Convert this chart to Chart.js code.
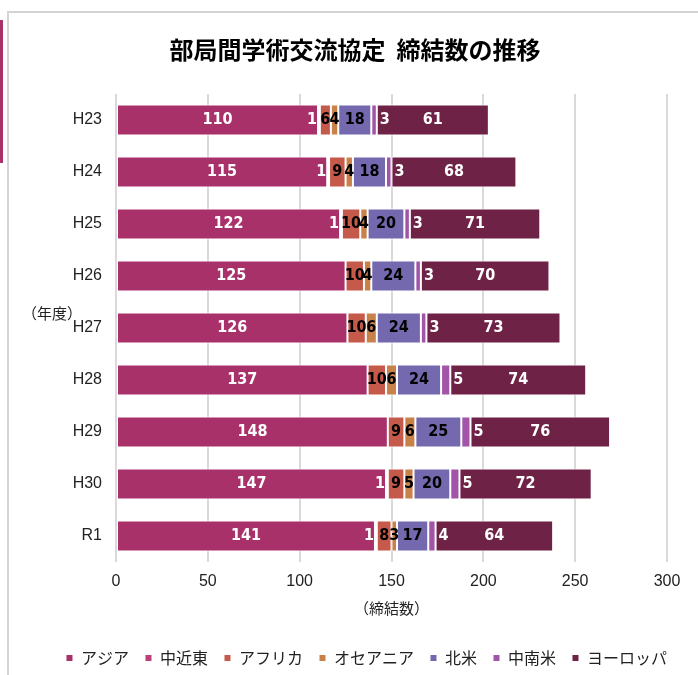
<!DOCTYPE html>
<html>
<head>
  <title>部局間学術交流協定 締結数の推移</title>
  <meta charset="UTF-8" />
  <script src="https://cdn.jsdelivr.net/npm/chart.js"></script>
  <style>
    body { margin: 0; background: #fff; }
    .wrap { position: relative; width: 698px; height: 675px; overflow: hidden; }
    .frame {
      position: absolute; left: 7px; top: 11px; width: 720px; height: 700px;
      border-left: 2px solid #d4d4d4; border-top: 2px solid #d4d4d4;
    }
    .mark { position: absolute; left: 0; top: 20px; width: 3px; height: 143px; background: #a8316a; }
    canvas { position: absolute; left: 0; top: 0; }
  </style>
</head>
<body>
  <div class="wrap">
    <div class="frame"></div>
    <div class="mark"></div>
    <canvas id="chart" width="698" height="676"></canvas>
  </div>

  <script>
    const years = ['H23', 'H24', 'H25', 'H26', 'H27', 'H28', 'H29', 'H30', 'R1'];
    const regions = ['アジア', '中近東', 'アフリカ', 'オセアニア', '北米', '中南米', 'ヨーロッパ'];

    const asia       = [110, 115, 122, 125, 126, 137, 148, 147, 141];
    const middleEast = [1, 1, 1, 0, 0, 0, 0, 1, 1];
    const africa     = [6, 9, 10, 10, 10, 10, 9, 9, 8];
    const oceania    = [4, 4, 4, 4, 6, 6, 6, 5, 3];
    const northAm    = [18, 18, 20, 24, 24, 24, 25, 20, 17];
    const latinAm    = [3, 3, 3, 3, 3, 5, 5, 5, 4];
    const europe     = [61, 68, 71, 70, 73, 74, 76, 72, 64];

    const xTicks = [0, 50, 100, 150, 200, 250, 300];

    const colors = ['#a8316a', '#bd3f79', '#c55a4b', '#c9814a', '#7468ae', '#a154a8', '#6e2245'];
    const labelColors = ['#fff', '#fff', '#000', '#000', '#000', '#fff', '#fff'];
    const series = [asia, middleEast, africa, oceania, northAm, latinAm, europe];

    const jp = '"Noto Sans CJK JP", "Liberation Sans", sans-serif';
    const lat = '"Liberation Sans", "Noto Sans CJK JP", sans-serif';
    const num = '"Liberation Sans Narrow", "DejaVu Sans Condensed", "Liberation Sans", sans-serif';

    // value labels + chart title + y axis caption
    const extras = {
      id: 'extras',
      beforeDraw(chart) {
        // nudge legend a bit to the right, like the original
        if (!chart.legend._moved) {
          chart.legend.left += 16;
          chart.legend.right += 16;
          chart.legend._moved = true;
        }
      },
      afterDatasetsDraw(chart) {
        const ctx = chart.ctx;
        ctx.save();
        ctx.font = 'bold 16px ' + num;
        ctx.textBaseline = 'middle';
        chart.data.datasets.forEach((ds, i) => {
          const meta = chart.getDatasetMeta(i);
          meta.data.forEach((bar, j) => {
            const v = ds.data[j];
            if (!v) return;
            const p = bar.getProps(['x', 'y', 'base'], true);
            ctx.fillStyle = labelColors[i];
            if (i === 1) {
              ctx.textAlign = 'right';
              ctx.fillText(v, p.base - 1, p.y);
            } else if (i === 5) {
              ctx.textAlign = 'left';
              ctx.fillText(v, p.x + 3, p.y);
            } else {
              ctx.textAlign = 'center';
              ctx.fillText(v, (p.x + p.base) / 2, p.y);
            }
          });
        });
        ctx.fillStyle = '#000';
        ctx.textAlign = 'center';
        ctx.font = 'bold 24px ' + jp;
        ctx.fillText('部局間学術交流協定  締結数の推移', 355, 50);
        ctx.textAlign = 'left';
        ctx.font = '15px ' + jp;
        ctx.fillStyle = '#222';
        ctx.fillText('（年度）', 22, 313);
        ctx.restore();
      }
    };

    new Chart(document.getElementById('chart'), {
      type: 'bar',
      data: {
        labels: years,
        datasets: regions.map((r, i) => ({
          label: r,
          data: series[i],
          backgroundColor: colors[i],
          borderColor: '#fff',
          borderWidth: 1,
          borderSkipped: false,
          categoryPercentage: 1,
          barPercentage: 0.6
        }))
      },
      options: {
        indexAxis: 'y',
        responsive: false,
        animation: false,
        layout: { padding: { top: 94, left: 12, right: 31, bottom: 0 } },
        scales: {
          x: {
            stacked: true,
            min: 0,
            max: 300,
            afterBuildTicks: (s) => { s.ticks = xTicks.map(v => ({ value: v })); },
            afterFit: (s) => { s.height = 72; },
            grid: { color: '#d9d9d9', lineWidth: 2, drawTicks: false },
            border: { display: false },
            ticks: { padding: 10, color: '#222', font: { size: 16, family: lat } },
            title: {
              display: true,
              text: '（締結数）',
              color: '#222',
              font: { size: 15, family: jp },
              padding: { top: 0, bottom: 17 }
            }
          },
          y: {
            stacked: true,
            afterFit: (s) => { s.width = 104; },
            grid: { display: false, drawTicks: false },
            border: { display: false },
            ticks: { padding: 14, color: '#222', font: { size: 16, family: lat } }
          }
        },
        plugins: {
          legend: {
            position: 'bottom',
            align: 'end',
            labels: {
              usePointStyle: true,
              pointStyle: 'rect',
              boxWidth: 7,
              boxHeight: 7,
              padding: 16,
              color: '#222',
              font: { size: 16, family: jp }
            }
          },
          tooltip: { enabled: false }
        }
      },
      plugins: [extras]
    });
  </script>
</body>
</html>
